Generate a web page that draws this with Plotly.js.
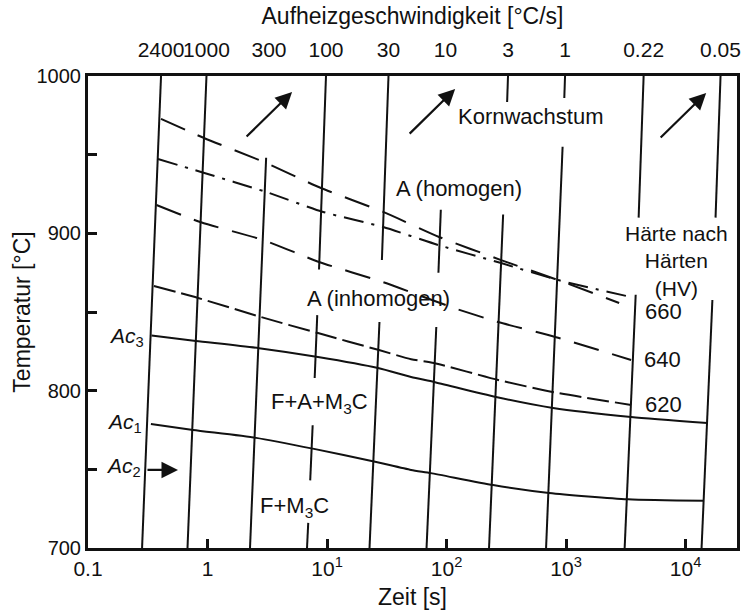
<!DOCTYPE html>
<html>
<head>
<meta charset="utf-8">
<script src="https://cdn.plot.ly/plotly-3.0.1.min.js"></script>
<style>
  html, body { margin: 0; padding: 0; background: #fff; }
  #chart { width: 742px; height: 614px; }
</style>
</head>
<body>
<div id="chart"></div>
<script>
// Heating-rate lines (top axis), °C/s
const rates = [2400, 1000, 300, 100, 30, 10, 3, 1, 0.22, 0.05];
const rateLabels = ['2400', '1000', '300', '100', '30', '10', '3', '1', '0.22', '0.05'];
// Heating starts from room temperature
const startTemp = 20;
// Visible temperature stretches of each heating line (°C)
const rateSegments = [
  [[700, 1000]],
  [[700, 1000]],
  [[700, 948]],
  [[877, 1000], [808, 848], [743, 778], [700, 716]],
  [[883, 1000], [700, 843.6]],
  [[875, 915], [700, 840.5]],
  [[983.5, 1000], [700, 912]],
  [[986, 1000], [700, 955]],
  [[910, 1000], [700, 861]],
  [[910, 1000], [700, 857.6]]
];

// Transformation curves: time (s) and temperature (°C)
const ac3Time = [0.34, 0.80, 2.7, 8.4, 26.7, 50.5, 78.5, 259, 778, 3500, 15180];
const ac3Temp = [835, 831.6, 827, 821.4, 814.4, 808.7, 805.5, 796, 789, 783.3, 779.4];

const ac1Time = [0.336, 0.757, 2.55, 7.78, 24.7, 50.5, 74, 245, 721, 3300, 14200];
const ac1Temp = [778.8, 775, 770, 763, 755, 749.6, 747.6, 740, 735, 731, 730];

// Hardness after hardening: 620 HV, 640 HV, 660 HV
const hv620Time = [0.356, 0.834, 2.8, 8.4, 27.2, 50.5, 78.5, 270, 794, 3505];
const hv620Temp = [866.5, 858.9, 846.8, 836.6, 825.8, 820, 817.6, 806.8, 799, 790.9];

const hv640Time = [0.374, 0.883, 2.91, 8.57, 29.5, 115.6, 270, 824, 3500];
const hv640Temp = [918, 907, 895.8, 881.8, 869, 852.5, 843.6, 834, 819.5];

const hv660Time = [0.385, 0.883, 3.09, 9.27, 29.5, 85, 286, 857, 3500];
const hv660Temp = [947.2, 939, 926.3, 913.6, 904, 892.6, 881.1, 870.3, 859.5];

// Onset of grain growth (Kornwachstum)
const grainTime = [0.408, 0.935, 2.97, 8.9, 29.5, 86.5, 286, 857, 2780];
const grainTemp = [972.7, 960.6, 945.3, 928.8, 913.6, 897.7, 883, 870.3, 855.7];

// Bottom axis ticks
const timeTicks = [0.1, 1, 10, 100, 1000, 10000];
const timeTickText = ['0.1', '1', '10<sup>1</sup>', '10<sup>2</sup>', '10<sup>3</sup>', '10<sup>4</sup>'];
const tempTicks = [700, 750, 800, 850, 900, 950, 1000];
const tempTickText = ['700', '', '800', '', '900', '', '1000'];

const FONT = 'Liberation Sans, Arial, sans-serif';
const INK = '#111';

const traces = [];

// heating-rate lines, built from the rate: t = (T - startTemp) / rate
rates.forEach((r, i) => {
  const xs = [], ys = [];
  rateSegments[i].forEach((seg, k) => {
    if (k > 0) { xs.push(null); ys.push(null); }
    seg.forEach(T => { xs.push((T - startTemp) / r); ys.push(T); });
  });
  traces.push({
    x: xs, y: ys, xaxis: 'x2', yaxis: 'y', mode: 'lines',
    line: { color: INK, width: 2 }, connectgaps: false,
    hoverinfo: 'skip', showlegend: false
  });
});

function curve(x, y, dash) {
  return {
    x: x, y: y, xaxis: 'x', yaxis: 'y', mode: 'lines',
    line: { color: INK, width: 2, dash: dash, shape: 'spline', smoothing: 0.6 },
    hoverinfo: 'skip', showlegend: false
  };
}
traces.push(curve(ac3Time, ac3Temp, 'solid'));
traces.push(curve(ac1Time, ac1Temp, 'solid'));
traces.push(curve(hv620Time, hv620Temp, '22px,6px'));
traces.push(curve(hv640Time, hv640Temp, '26px,14px'));
traces.push(curve(hv660Time, hv660Temp, '20px,8px,3px,8px'));
traces.push(curve(grainTime, grainTemp, '26px,14px'));

const lg = Math.log10;
function label(text, t, T, opts) {
  return Object.assign({
    xref: 'x', yref: 'y', x: lg(t), y: T, text: text, showarrow: false,
    font: { family: FONT, size: 22, color: INK }
  }, opts || {});
}
function arrow(t, T, ax, ay) {
  return {
    xref: 'x', yref: 'y', x: lg(t), y: T, text: '', showarrow: true,
    ax: ax, ay: ay, arrowhead: 2, arrowsize: 1.5, arrowwidth: 2.2, arrowcolor: INK
  };
}

const annotations = [
  label('Kornwachstum', 509, 974),
  label('A (homogen)', 127, 928.8),
  label('A (inhomogen)', 26.7, 858.9),
  label('F+A+M<sub>3</sub>C', 8.6, 792.2),
  label('F+M<sub>3</sub>C', 5.3, 726.1),
  label('Härte nach<br>Härten<br>(HV)', 8340, 882.5, { font: { family: FONT, size: 21, color: INK } }),
  label('660', 6490, 850.5),
  label('640', 6350, 819.5),
  label('620', 6490, 791.5),
  label('<i>Ac</i><sub>3</sub>', 0.305, 834, { xanchor: 'right', font: { family: FONT, size: 21, color: INK } }),
  label('<i>Ac</i><sub>1</sub>', 0.295, 779.4, { xanchor: 'right', font: { family: FONT, size: 21, color: INK } }),
  label('<i>Ac</i><sub>2</sub>', 0.289, 751.5, { xanchor: 'right', font: { family: FONT, size: 21, color: INK } }),
  arrow(5.1, 989.8, -47, 46),
  arrow(118, 991.7, -47, 46),
  arrow(14860, 989.2, -47, 46),
  arrow(0.566, 749.6, -32, 0)
];

const xRange = [-1, 4.43];

const layout = {
  width: 742, height: 614,
  margin: { l: 88, r: 5, t: 76, b: 66 },
  paper_bgcolor: '#fff', plot_bgcolor: '#fff',
  font: { family: FONT, color: INK, size: 21 },
  xaxis: {
    type: 'log', range: xRange,
    tickvals: timeTicks, ticktext: timeTickText, tickangle: 0,
    ticks: 'inside', ticklen: 9, tickwidth: 3, tickcolor: INK,
    showline: true, linewidth: 3, linecolor: INK, mirror: true,
    showgrid: false, zeroline: false,
    tickfont: { family: FONT, size: 21, color: INK },
    title: { text: 'Zeit [s]', font: { family: FONT, size: 23, color: INK }, standoff: 10 }
  },
  xaxis2: {
    type: 'log', range: xRange, overlaying: 'x', side: 'top', anchor: 'y',
    tickvals: rates.map(r => (1000 - startTemp) / r), ticktext: rateLabels, tickangle: 0,
    ticks: '', ticklabelstandoff: 14, showline: false, showgrid: false, zeroline: false,
    tickfont: { family: FONT, size: 21, color: INK },
    title: { text: 'Aufheizgeschwindigkeit [°C/s]', font: { family: FONT, size: 23, color: INK }, standoff: 6 }
  },
  yaxis: {
    range: [700, 1000],
    tickvals: tempTicks, ticktext: tempTickText,
    ticks: 'inside', ticklen: 9, tickwidth: 3, tickcolor: INK,
    showline: true, linewidth: 3, linecolor: INK, mirror: true,
    showgrid: false, zeroline: false,
    tickfont: { family: FONT, size: 20, color: INK },
    title: { text: 'Temperatur [°C]', font: { family: FONT, size: 23, color: INK }, standoff: 0 }
  },
  annotations: annotations,
  showlegend: false
};

Plotly.newPlot('chart', traces, layout, { staticPlot: true, displayModeBar: false });
</script>
</body>
</html>
